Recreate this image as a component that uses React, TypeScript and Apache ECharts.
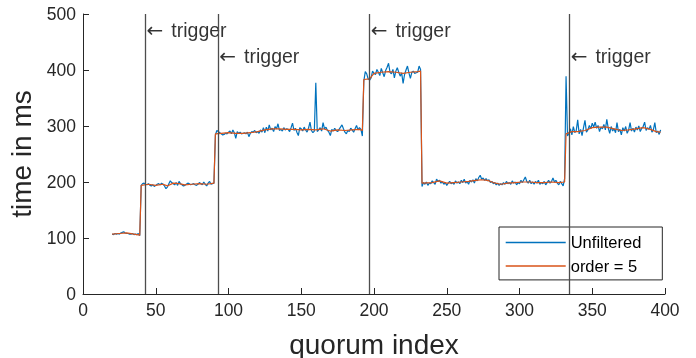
import React, { useEffect, useRef } from "react";
import * as echarts from "echarts";

// Unfiltered samples, split by plateau; each segment starts at the given quorum index
const segStarts = [20, 40, 91, 193, 233, 332];
const segA = [107, 106, 108, 107, 108, 107, 109, 110, 111, 109, 108, 108, 107, 107, 108, 106, 107, 106, 108, 104];
const segB = [194, 197, 198, 196, 195, 197, 194, 193, 195, 192, 194, 196, 197, 195, 198, 196, 193, 188, 191, 197,
  202, 199, 197, 195, 199, 194, 201, 197, 195, 193, 194, 196, 198, 197, 195, 196, 197, 195, 194, 196,
  199, 197, 195, 200, 196, 193, 198, 201, 196, 197, 198];
const segC = [284, 292, 290, 288, 286, 284, 285, 287, 286, 289,
  291, 286, 293, 288, 278, 290, 287, 289, 286, 287,
  288, 286, 289, 281, 287, 290, 289, 292, 288, 290,
  287, 293, 289, 297, 288, 298, 291, 302, 293, 296,
  290, 299, 295, 304, 292, 294, 291, 297, 293, 295,
  294, 290, 297, 305, 292, 296, 289, 283, 297, 295,
  291, 298, 293, 289, 296, 307, 292, 288, 291, 377,
  290, 293, 297, 291, 306, 295, 298, 292, 289, 283,
  294, 291, 296, 292, 290, 294, 298, 302, 295, 289,
  286, 292, 290, 296, 293, 289, 295, 301, 293, 297,
  294, 282];
const segD = [380, 397, 393, 384, 382, 386, 398, 394,
  392, 401, 396, 390, 403, 395, 388, 399, 405, 412,
  396, 393, 401, 386, 398, 404, 396, 389, 395, 376,
  392, 400, 407, 395, 385, 396, 398, 394, 395, 396,
  407, 401];
const segE = [192, 199, 196, 200, 194, 198, 197,
  202, 199, 196, 205, 201, 203, 198, 200, 196, 199,
  194, 198, 201, 197, 199, 196, 202, 198, 200, 197,
  203, 199, 205, 198, 201, 196, 203, 200, 204, 198,
  206, 202, 208, 212, 205, 207, 203, 206, 202, 204,
  199, 201, 197, 199, 195, 198, 194, 197, 195, 199,
  196, 201, 197, 199, 196, 202, 198, 200, 195, 199,
  197, 203, 199, 204, 209, 201, 198, 203, 197, 200,
  196, 201, 198, 203, 196, 199, 197, 201, 195, 199,
  203, 198, 201, 207, 200, 203, 198, 195, 201, 197,
  193, 206];
const segF = [389, 282, 287, 295, 284, 299, 288, 292,
  311, 286, 294, 283, 297, 310, 289, 293, 301, 295,
  305, 298, 307, 296, 301, 290, 298, 295, 303, 293,
  312, 296, 287, 299, 291, 295, 288, 306, 290, 294,
  284, 297, 291, 299, 287, 293, 306, 291, 296, 289,
  298, 293, 300, 290, 296, 299, 307, 292, 297, 294,
  301, 289, 293, 306, 288, 291, 285, 293];
const segments = [segA, segB, segC, segD, segE, segF];

// Filtered (order = 5) curve, read at sample indices
const filteredIdx = [20, 25, 30, 35, 39, 40, 45, 50, 55, 58, 62, 66, 70, 75, 80, 85, 90,
  91, 95, 100, 105, 110, 115, 120, 125, 130, 135, 140, 145, 150, 155, 160, 165, 170, 175, 180, 185, 190, 192,
  193, 197, 200, 205, 210, 215, 220, 225, 230, 232,
  233, 240, 245, 250, 255, 260, 265, 270, 274, 278, 282, 287, 292, 297, 302, 307, 312, 317, 322, 327, 331,
  332, 336, 340, 345, 350, 355, 360, 365, 370, 375, 380, 385, 390, 394, 397];
const filteredVal = [107, 108, 109, 107, 105, 194, 196, 194, 196, 193, 198, 197, 195, 196, 197, 196, 198,
  286, 287, 288, 287, 287, 288, 290, 293, 295, 295, 294, 294, 293, 294, 293, 295, 291, 293, 292, 293, 294, 292,
  383, 384, 394, 396, 397, 396, 394, 396, 397, 398,
  198, 199, 202, 198, 199, 200, 201, 203, 204, 203, 199, 196, 198, 199, 200, 200, 199, 199, 200, 199, 200,
  286, 290, 290, 292, 297, 298, 298, 295, 292, 293, 295, 297, 294, 290, 289];

const triggerIdx = [43, 93, 197, 334.5];
const triggerLabelY = [471, 425, 471, 425];
const triggerArrow = "\u2190";
const triggerWord = "trigger";

const FONT = '"Liberation Sans", Arial, Helvetica, sans-serif';
const AXIS_COLOR = "#262626";

export default function App() {
  const ref = useRef<HTMLDivElement>(null);
  useEffect(() => {
    const chart = echarts.init(ref.current!, null, { renderer: "svg" });
    const unfiltered = segments.flatMap((seg, s) => seg.map((v, i) => [segStarts[s] + i, v]));
    const filtered = filteredIdx.map((x, i) => [x, filteredVal[i]]);
    const triggers = triggerIdx.map((x, i) => [x, triggerLabelY[i]]);

    const axisCommon = {
      type: "value" as const,
      nameLocation: "middle" as const,
      nameTextStyle: { fontSize: 28, color: AXIS_COLOR, fontFamily: FONT },
      axisLine: { show: true, lineStyle: { color: AXIS_COLOR, width: 1 } },
      axisTick: { show: true, inside: true, length: 6, lineStyle: { color: AXIS_COLOR, width: 1 } },
      axisLabel: { fontSize: 17.5, color: AXIS_COLOR, margin: 7, fontFamily: FONT },
      splitLine: { show: false },
    };

    chart.setOption({
      animation: false,
      textStyle: { fontFamily: FONT },
      grid: { left: 83, right: 31, top: 14, bottom: 64, containLabel: false, outerBoundsMode: "none" },
      xAxis: { ...axisCommon, min: 0, max: 400, interval: 50, name: "quorum index", nameGap: 36 },
      yAxis: { ...axisCommon, min: 0, max: 500, interval: 100, name: "time in ms", nameGap: 46 },
      legend: {
        data: ["Unfiltered", "order = 5"],
        orient: "vertical",
        left: 499,
        top: 227,
        icon: "rect",
        itemWidth: 60,
        itemHeight: 1.5,
        itemGap: 3.5,
        padding: [5.4, 21, 4, 6.7],
        borderColor: AXIS_COLOR,
        borderWidth: 1,
        backgroundColor: "#ffffff",
        selectedMode: false,
        textStyle: { fontSize: 16.5, color: "#000000", lineHeight: 20, fontFamily: FONT },
      },
      series: [
        {
          name: "Unfiltered",
          type: "line",
          data: unfiltered,
          symbol: "none",
          lineStyle: { color: "#0072BD", width: 1.2 },
          itemStyle: { color: "#0072BD" },
          z: 2,
        },
        {
          name: "order = 5",
          type: "line",
          data: filtered,
          symbol: "none",
          lineStyle: { color: "#D95319", width: 1.2 },
          itemStyle: { color: "#D95319" },
          z: 3,
        },
        {
          name: "trigger",
          type: "scatter",
          data: triggers,
          symbolSize: 0,
          z: 4,
          label: {
            show: true,
            position: "right",
            distance: 1,
            formatter: "{a|" + triggerArrow + "}{b|" + triggerWord + "}",
            rich: {
              a: { fontFamily: '"DejaVu Sans", sans-serif', fontSize: 20, color: "#000000" },
              b: { fontFamily: FONT, fontSize: 19.5, color: "#000000", padding: [0, 0, 0, 8] },
            },
          },
          markLine: {
            silent: true,
            symbol: "none",
            label: { show: false },
            lineStyle: { color: "#4d4d4d", width: 1.3, type: "solid" },
            data: triggerIdx.map((x) => ({ xAxis: x })),
          },
        },
      ],
    });
    return () => chart.dispose();
  }, []);
  return <div ref={ref} style={{ position: "fixed", left: 0, top: 0, width: 696, height: 358 }} />;
}
